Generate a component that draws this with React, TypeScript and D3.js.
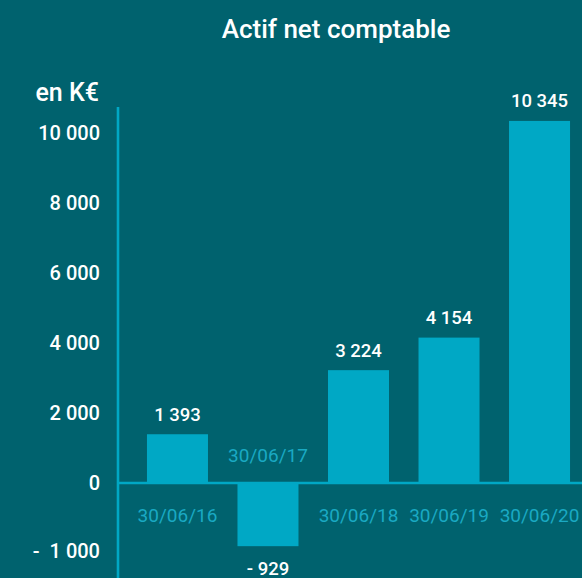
import React from "react";
import * as d3 from "d3";

const categories = ["30/06/16", "30/06/17", "30/06/18", "30/06/19", "30/06/20"];
const values = [1393, -929, 3224, 4154, 10345];
const valueLabels = ["1 393", "- 929", "3 224", "4 154", "10 345"];
const tickValues = [-1000, 0, 2000, 4000, 6000, 8000, 10000];
const tickLabels = ["-  1 000", "0", "2 000", "4 000", "6 000", "8 000", "10 000"];
const title = "Actif net comptable";
const unitLabel = "en K€";

const W = 582;
const H = 578;
const BG = "#00626e";
const BAR = "#00a8c5";
const CAT = "#1aa9c3";
const FONT = "Roboto, 'Noto Sans', sans-serif";

export default function App() {
  const x = d3
    .scaleBand<string>()
    .domain(categories)
    .range([118, 599])
    .paddingInner(0.326)
    .paddingOuter(0.32);
  const y = d3.scaleLinear().domain([-1000, 0, 10000]).range([551, 483, 133]);
  const y0 = y(0);

  return (
    <>
      <style>{"body{margin:0;}"}</style>
      <svg width={W} height={H} style={{ display: "block" }} fontFamily={FONT}>
        <rect x={0} y={0} width={W} height={H} fill={BG} />
        <text x={336} y={38} textAnchor="middle" fill="#ffffff" fontSize={26} fontWeight={500}>
          {title}
        </text>
        <text x={99} y={101} textAnchor="end" fill="#ffffff" fontSize={25} fontWeight={500}>
          {unitLabel}
        </text>
        {tickValues.map((t, i) => (
          <text
            key={t}
            x={100}
            y={y(t) + 7}
            textAnchor="end"
            fill="#ffffff"
            fontSize={20}
            fontWeight={500}
            style={{ whiteSpace: "pre" }}
          >
            {tickLabels[i]}
          </text>
        ))}
        {categories.map((c, i) => {
          const v = values[i];
          const top = Math.min(y(v), y0);
          const h = Math.abs(y(v) - y0);
          const cx = (x(c) as number) + x.bandwidth() / 2;
          return (
            <g key={c}>
              <rect x={x(c)} y={top} width={x.bandwidth()} height={h} fill={BAR} />
              <text
                x={cx}
                y={v >= 0 ? y(v) - 13.5 : y(v) + 29}
                textAnchor="middle"
                fill="#ffffff"
                fontSize={18.5}
                fontWeight={500}
              >
                {valueLabels[i]}
              </text>
              <text
                x={cx}
                y={v >= 0 ? y0 + 38.7 : y0 - 21.3}
                textAnchor="middle"
                fill={CAT}
                fontSize={19}
              >
                {c}
              </text>
            </g>
          );
        })}
        <line x1={118} x2={W} y1={y0} y2={y0} stroke={BAR} strokeWidth={2.6} />
        <line x1={118} x2={118} y1={107} y2={H} stroke={BAR} strokeWidth={2.6} />
      </svg>
    </>
  );
}
